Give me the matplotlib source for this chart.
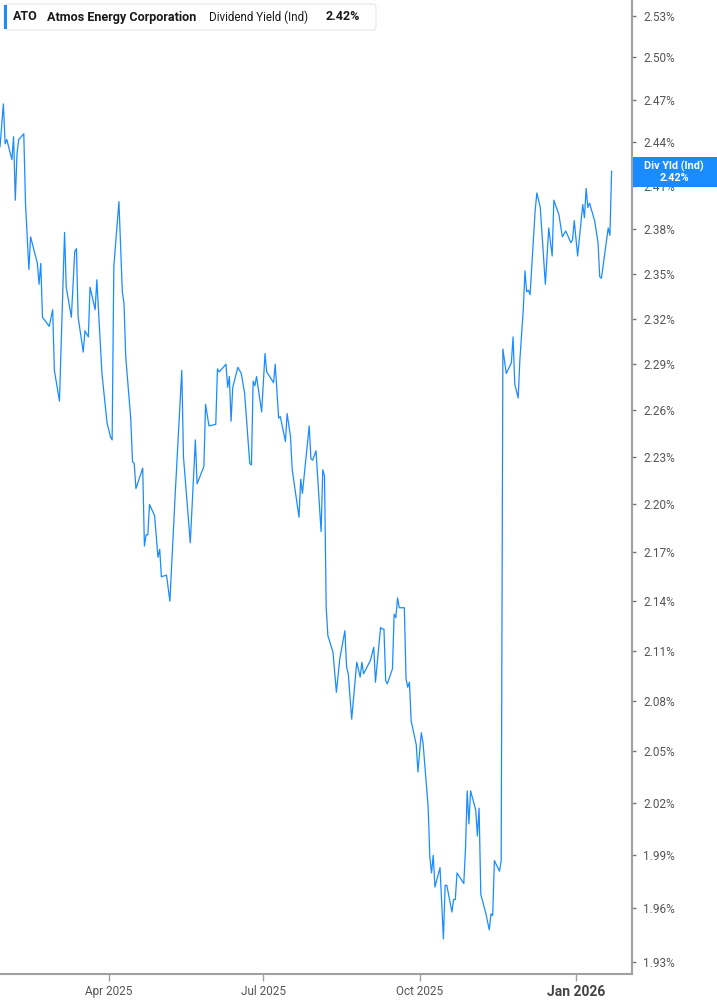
import numpy as np
import pandas as pd
import matplotlib
matplotlib.use('Agg')
import matplotlib.pyplot as plt
import matplotlib.dates as mdates
from matplotlib.patches import Rectangle, FancyBboxPatch
from matplotlib.ticker import FixedLocator, NullLocator

# dividend yield (ind), in percent
dates = [
    '2025-01-27', '2025-01-29', '2025-01-30', '2025-01-31', '2025-02-03', '2025-02-04', '2025-02-05', '2025-02-06', '2025-02-07', '2025-02-10',
    '2025-02-11', '2025-02-13', '2025-02-14', '2025-02-16', '2025-02-18', '2025-02-19', '2025-02-20', '2025-02-21', '2025-02-25', '2025-02-27',
    '2025-02-28', '2025-03-03', '2025-03-06', '2025-03-07', '2025-03-10', '2025-03-12', '2025-03-13', '2025-03-14', '2025-03-17', '2025-03-18',
    '2025-03-20', '2025-03-21', '2025-03-24', '2025-03-25', '2025-03-28', '2025-03-31', '2025-04-02', '2025-04-03', '2025-04-04', '2025-04-07',
    '2025-04-09', '2025-04-10', '2025-04-11', '2025-04-14', '2025-04-15', '2025-04-16', '2025-04-17', '2025-04-21', '2025-04-22', '2025-04-23',
    '2025-04-24', '2025-04-25', '2025-04-28', '2025-04-30', '2025-05-01', '2025-05-02', '2025-05-05', '2025-05-07', '2025-05-10', '2025-05-14',
    '2025-05-15', '2025-05-19', '2025-05-22', '2025-05-23', '2025-05-27', '2025-05-28', '2025-05-30', '2025-06-03', '2025-06-04', '2025-06-05',
    '2025-06-09', '2025-06-10', '2025-06-11', '2025-06-12', '2025-06-13', '2025-06-16', '2025-06-18', '2025-06-20', '2025-06-23', '2025-06-24',
    '2025-06-25', '2025-06-26', '2025-06-27', '2025-06-30', '2025-07-02', '2025-07-03', '2025-07-07', '2025-07-08', '2025-07-10', '2025-07-11',
    '2025-07-14', '2025-07-15', '2025-07-17', '2025-07-18', '2025-07-22', '2025-07-23', '2025-07-24', '2025-07-28', '2025-07-29', '2025-07-30',
    '2025-08-01', '2025-08-04', '2025-08-05', '2025-08-06', '2025-08-07', '2025-08-08', '2025-08-11', '2025-08-13', '2025-08-15', '2025-08-18',
    '2025-08-19', '2025-08-20', '2025-08-22', '2025-08-25', '2025-08-27', '2025-08-28', '2025-08-29', '2025-09-02', '2025-09-04', '2025-09-05',
    '2025-09-08', '2025-09-09', '2025-09-10', '2025-09-11', '2025-09-12', '2025-09-15', '2025-09-16', '2025-09-17', '2025-09-18', '2025-09-19',
    '2025-09-22', '2025-09-23', '2025-09-24', '2025-09-25', '2025-09-26', '2025-09-29', '2025-09-30', '2025-10-02', '2025-10-03', '2025-10-06',
    '2025-10-07', '2025-10-08', '2025-10-09', '2025-10-10', '2025-10-13', '2025-10-15', '2025-10-16', '2025-10-17', '2025-10-20', '2025-10-21',
    '2025-10-22', '2025-10-23', '2025-10-27', '2025-10-28', '2025-10-29', '2025-10-30', '2025-10-31', '2025-11-03', '2025-11-04', '2025-11-05',
    '2025-11-06', '2025-11-09', '2025-11-11', '2025-11-12', '2025-11-13', '2025-11-14', '2025-11-17', '2025-11-18', '2025-11-19', '2025-11-21',
    '2025-11-24', '2025-11-25', '2025-11-26', '2025-11-28', '2025-11-29', '2025-12-01', '2025-12-02', '2025-12-03', '2025-12-04', '2025-12-05',
    '2025-12-08', '2025-12-09', '2025-12-11', '2025-12-14', '2025-12-16', '2025-12-18', '2025-12-19', '2025-12-22', '2025-12-24', '2025-12-26',
    '2025-12-29', '2025-12-30', '2025-12-31', '2026-01-02', '2026-01-05', '2026-01-06', '2026-01-07', '2026-01-08', '2026-01-09', '2026-01-12',
    '2026-01-14', '2026-01-15', '2026-01-16', '2026-01-20', '2026-01-21', '2026-01-22',
]

yields = [
    2.437, 2.467, 2.439, 2.442, 2.428, 2.444, 2.400, 2.432, 2.442, 2.446,
    2.398, 2.353, 2.375, 2.366, 2.357, 2.343, 2.357, 2.321, 2.315, 2.326,
    2.286, 2.266, 2.378, 2.341, 2.321, 2.365, 2.367, 2.321, 2.298, 2.312,
    2.308, 2.341, 2.326, 2.346, 2.284, 2.252, 2.243, 2.241, 2.355, 2.399,
    2.338, 2.330, 2.295, 2.254, 2.227, 2.226, 2.210, 2.223, 2.174, 2.181,
    2.181, 2.200, 2.193, 2.167, 2.172, 2.155, 2.156, 2.140, 2.204, 2.286,
    2.230, 2.176, 2.241, 2.213, 2.224, 2.264, 2.250, 2.251, 2.287, 2.285,
    2.290, 2.275, 2.282, 2.253, 2.275, 2.288, 2.284, 2.271, 2.226, 2.225,
    2.279, 2.276, 2.282, 2.259, 2.297, 2.285, 2.278, 2.290, 2.255, 2.256,
    2.240, 2.258, 2.243, 2.222, 2.192, 2.216, 2.207, 2.250, 2.229, 2.228,
    2.234, 2.183, 2.222, 2.218, 2.136, 2.119, 2.109, 2.085, 2.105, 2.122,
    2.100, 2.096, 2.069, 2.103, 2.094, 2.103, 2.096, 2.104, 2.112, 2.091,
    2.124, 2.123, 2.123, 2.092, 2.090, 2.099, 2.132, 2.130, 2.142, 2.136,
    2.136, 2.093, 2.088, 2.091, 2.068, 2.054, 2.038, 2.061, 2.055, 2.018,
    1.989, 1.980, 1.990, 1.972, 1.983, 1.943, 1.973, 1.973, 1.958, 1.965,
    1.965, 1.980, 1.974, 1.994, 2.027, 2.008, 2.027, 2.016, 2.001, 2.017,
    1.968, 1.957, 1.948, 1.957, 1.956, 1.987, 1.981, 1.987, 2.300, 2.284,
    2.291, 2.308, 2.277, 2.268, 2.293, 2.326, 2.352, 2.338, 2.339, 2.336,
    2.393, 2.405, 2.395, 2.343, 2.381, 2.362, 2.400, 2.390, 2.375, 2.379,
    2.371, 2.373, 2.386, 2.362, 2.397, 2.388, 2.408, 2.395, 2.398, 2.386,
    2.371, 2.348, 2.347, 2.381, 2.376, 2.420,
]

y_ticks = [1.93, 1.96, 1.99, 2.02, 2.05, 2.08, 2.11, 2.14, 2.17, 2.20, 2.23,
           2.26, 2.29, 2.32, 2.35, 2.38, 2.41, 2.44, 2.47, 2.50, 2.53]
x_ticks = ['2025-04-01', '2025-07-01', '2025-10-01', '2026-01-01']
x_labels = ['Apr 2025', 'Jul 2025', 'Oct 2025', 'Jan 2026']

ticker = 'ATO'
company = 'Atmos Energy Corporation'
metric = 'Dividend Yield (Ind)'
last_value = yields[-1]

BLUE = '#1a8cff'
GREY_TXT = '#555555'
AXIS = '#a0a0a0'

W, H = 717, 1005
fig = plt.figure(figsize=(W / 100, H / 100), dpi=100)
fig.patch.set_facecolor('white')


def fx(px):
    return px / W


def fy(py):
    return 1 - py / H


ax = fig.add_axes([0, fy(974), fx(632), 974 / H])
ax.plot(pd.to_datetime(dates), yields, color=BLUE, lw=0.9)

ax.set_yscale('log')
ax.set_ylim(1.9236, 2.5414)
ax.set_xlim(pd.Timestamp('2025-01-27'), pd.Timestamp('2026-02-03'))

ax.yaxis.tick_right()
ax.yaxis.set_major_locator(FixedLocator(y_ticks))
ax.yaxis.set_minor_locator(NullLocator())
ax.set_yticklabels([f'{v:.2f}%' for v in y_ticks])
ax.tick_params(axis='y', which='major', length=3, width=1, color='#777777',
               labelcolor=GREY_TXT, labelsize=8.5, pad=5)

ax.set_xticks(pd.to_datetime(x_ticks))
ax.set_xticklabels(x_labels)
ax.xaxis.set_minor_locator(NullLocator())
ax.tick_params(axis='x', length=5, width=1, color=AXIS,
               labelcolor=GREY_TXT, labelsize=8.5, pad=3)
for lab in ax.get_xticklabels() + ax.get_yticklabels():
    lab.set_family(['Roboto', 'DejaVu Sans'])
xl = ax.get_xticklabels()
xl[-1].set_fontweight('bold')
xl[-1].set_fontsize(10)
xl[-1].set_color('#444444')

for s in ['left', 'top']:
    ax.spines[s].set_visible(False)
for s in ['right', 'bottom']:
    ax.spines[s].set_color(AXIS)
    ax.spines[s].set_linewidth(1.5)

# header box
hdr = FancyBboxPatch((fx(4), fy(30)), fx(372), 26 / H,
                     boxstyle='round,pad=0,rounding_size=0.004',
                     transform=fig.transFigure, facecolor='white',
                     edgecolor='#e6e6e6', lw=0.8, zorder=5)
fig.add_artist(hdr)
fig.add_artist(Rectangle((fx(4), fy(29)), fx(3), 24 / H, transform=fig.transFigure,
                         facecolor=BLUE, edgecolor='none', zorder=6))
hfont = dict(family=['Roboto', 'DejaVu Sans'], color='#1a1a1a',
             va='center', zorder=7)
fig.text(fx(13), fy(17), ticker, fontweight='bold', fontsize=9, **hfont)
fig.text(fx(47), fy(17), company, fontweight='bold', fontsize=9.1, **hfont)
fig.text(fx(209), fy(17), metric, fontsize=8.4, **hfont)
fig.text(fx(326), fy(17), f'{last_value:.2f}%', fontweight='bold', fontsize=9, **hfont)

# last value label on the axis
fig.add_artist(Rectangle((fx(633), fy(187)), fx(84), 30 / H, transform=fig.transFigure,
                         facecolor=BLUE, edgecolor='none', zorder=5))
lfont = dict(family=['Roboto', 'DejaVu Sans'], fontsize=7.8, color='white',
             fontweight='bold', ha='center', va='center', zorder=7)
fig.text(fx(674), fy(166), 'Div Yld (Ind)', **lfont)
fig.text(fx(674), fy(178), f'{last_value:.2f}%', **lfont)

fig.savefig('out.png', dpi=100)
